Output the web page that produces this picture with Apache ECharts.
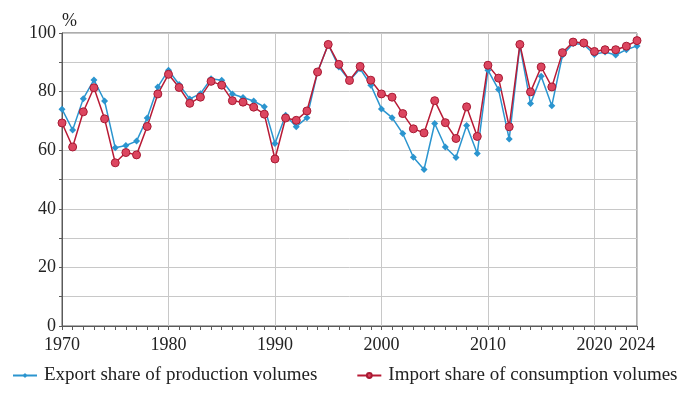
<!DOCTYPE html>
<html><head><meta charset="utf-8">
<script src="https://cdn.jsdelivr.net/npm/echarts@6/dist/echarts.min.js"></script>
<style>html,body{margin:0;padding:0;background:#fff}#c{width:690px;height:393px}</style>
</head><body><div id="c"></div>
<script>
const years = [1970,1971,1972,1973,1974,1975,1976,1977,1978,1979,1980,1981,1982,1983,1984,1985,1986,1987,1988,1989,1990,1991,1992,1993,1994,1995,1996,1997,1998,1999,2000,2001,2002,2003,2004,2005,2006,2007,2008,2009,2010,2011,2012,2013,2014,2015,2016,2017,2018,2019,2020,2021,2022,2023,2024];
const exportShare = [74.0,66.9,77.6,84.0,76.8,60.8,61.6,63.1,71.0,81.6,87.3,82.4,77.5,79.3,84.4,83.9,79.2,78.0,76.8,74.8,62.3,71.9,68.0,71.1,86.7,96.1,88.4,83.8,87.8,82.2,74.1,71.1,65.7,57.6,53.4,69.1,61.1,57.5,68.4,58.9,87.3,80.7,63.8,95.8,75.9,85.2,75.2,92.4,96.4,96.1,92.7,93.5,92.5,94.3,95.6];
const importShare = [69.3,61.1,73.1,81.3,70.7,55.7,59.2,58.4,68.1,79.2,85.9,81.4,76.0,78.1,83.5,82.2,76.9,76.4,74.7,72.3,57.0,71.0,70.2,73.4,86.7,96.1,89.3,83.8,88.6,83.9,79.2,78.1,72.5,67.3,65.9,76.9,69.4,64.0,74.8,64.7,89.0,84.6,68.0,96.1,79.9,88.4,81.6,93.3,96.9,96.6,93.7,94.3,94.3,95.5,97.4];
const xTickLabels = [1970,1980,1990,2000,2010,2020,2024];
const yTickLabels = [0,20,40,60,80,100];
const seriesNames = ['Export share of production volumes','Import share of consumption volumes'];

const FONT = 'Liberation Serif';
const chart = echarts.init(document.getElementById('c'), null, {renderer:'canvas'});
chart.setOption({
  animation:false,
  backgroundColor:'#fff',
  grid:{left:62,right:53,top:33,bottom:67,show:true,borderColor:'#5a5a5a',borderWidth:1,backgroundColor:'transparent'},
  legend:{
    left:12, top:366, padding:0, itemWidth:24, itemHeight:6, itemGap:39,
    textStyle:{fontFamily:FONT,fontSize:19,color:'#222',padding:[0,0,0,2]},
    data:seriesNames
  },
  xAxis:[{
    type:'value', min:1970, max:2024, interval:10,
    axisLine:{show:true,lineStyle:{color:'#5a5a5a',width:1}},
    axisTick:{show:false},
    splitLine:{show:true,lineStyle:{color:'#c8c8c8',width:1}},
    axisLabel:{fontFamily:FONT,fontSize:18,color:'#222',margin:10,
      formatter:v=>xTickLabels.includes(v)?String(v):''}
  },{
    type:'value', min:1970, max:2024, interval:1, position:'bottom', offset:0,
    axisLine:{show:false},
    axisTick:{show:true,length:4,lineStyle:{color:'#5a5a5a'}},
    axisLabel:{show:false}, splitLine:{show:false}
  }],
  yAxis:{
    type:'value', min:0, max:100, interval:10,
    name:'%', nameLocation:'end', nameGap:3,
    nameTextStyle:{fontFamily:FONT,fontSize:18,color:'#222',align:'left'},
    axisLine:{show:true,lineStyle:{color:'#5a5a5a',width:1}},
    axisTick:{show:true,length:3,lineStyle:{color:'#5a5a5a'}},
    splitLine:{show:true,lineStyle:{color:'#c8c8c8',width:1}},
    axisLabel:{fontFamily:FONT,fontSize:18,color:'#222',margin:6,
      formatter:v=>yTickLabels.includes(v)?String(v):''}
  },
  series:[{
    name:seriesNames[0], type:'line', xAxisIndex:0,
    data:years.map((y,i)=>[y,exportShare[i]]),
    symbol:'diamond', symbolSize:7,
    itemStyle:{color:'#2b95cf'},
    lineStyle:{color:'#2b95cf',width:1.5}
  },{
    name:seriesNames[1], type:'line', xAxisIndex:0,
    data:years.map((y,i)=>[y,importShare[i]]),
    symbol:'circle', symbolSize:8,
    itemStyle:{color:'#dc4660',borderColor:'#a81a33',borderWidth:1},
    lineStyle:{color:'#b81a35',width:1.5}
  }]
});
</script></body></html>
